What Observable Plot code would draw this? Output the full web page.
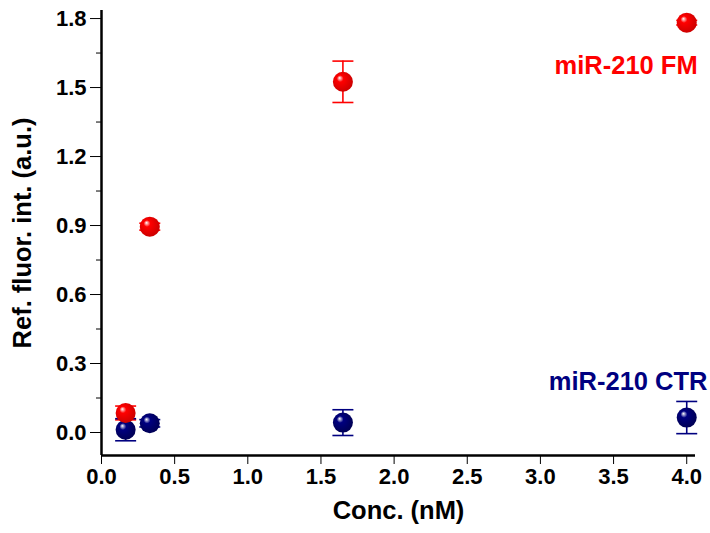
<!DOCTYPE html>
<html>
<head>
<meta charset="utf-8">
<script src="https://cdn.jsdelivr.net/npm/d3@7"></script>
<script src="https://cdn.jsdelivr.net/npm/@observablehq/plot@0.6"></script>
<style>
  body { margin: 0; background: #fff; }
  svg { font-family: "Liberation Sans", Arial, sans-serif; }
</style>
</head>
<body>
<div id="chart"></div>
<script>
const conc = [0.165, 0.33, 1.65, 4.0];
const fmValues = [0.085, 0.895, 1.525, 1.782];
const fmErrors = [0.03, 0.015, 0.09, 0.01];
const ctrValues = [0.012, 0.04, 0.043, 0.065];
const ctrErrors = [0.048, 0.016, 0.056, 0.07];
const yMajorTicks = [0, 0.3, 0.6, 0.9, 1.2, 1.5, 1.8];
const yMinorTicks = [0.15, 0.45, 0.75, 1.05, 1.35, 1.65];
const xTicks = [0, 0.5, 1, 1.5, 2, 2.5, 3, 3.5, 4];
const seriesLabels = [
  {name: "miR-210 FM", x: 4.075, y: 1.596, color: "#ff0000"},
  {name: "miR-210 CTR", x: 4.142, y: 0.222, color: "#000080"}
];

const rows = [];
conc.forEach((c, i) => {
  rows.push({series: "CTR", x: c, y: ctrValues[i], e: ctrErrors[i], color: "#000080", grad: "url(#gCTR)"});
  rows.push({series: "FM", x: c, y: fmValues[i], e: fmErrors[i], color: "#ff0000", grad: "url(#gFM)"});
});

const capSymbol = {draw(ctx, size) { ctx.moveTo(-10.5, 0); ctx.lineTo(10.5, 0); }};

const chart = Plot.plot({
  width: 710,
  height: 533,
  marginLeft: 101,
  marginRight: 15,
  marginTop: 10,
  marginBottom: 78,
  style: {fontFamily: "Liberation Sans, Arial, sans-serif", background: "white"},
  x: {domain: [0, 4.06]},
  y: {domain: [-0.1, 1.835]},
  marks: [
    Plot.axisY({ticks: yMajorTicks, tickFormat: d3.format(".1f"), tickSize: 11, tickPadding: 4, tickStrokeWidth: 2.2,
      fontSize: 22, fontWeight: "bold", label: null}),
    Plot.axisY({ticks: yMinorTicks, tickFormat: () => "", tickSize: 5, tickStrokeWidth: 2.2, label: null}),
    Plot.axisX({ticks: xTicks, tickFormat: d3.format(".1f"), tickSize: 9, tickPadding: 4, tickStrokeWidth: 2.2,
      fontSize: 22, fontWeight: "bold", label: null}),
    Plot.text(["Ref. fluor. int. (a.u.)"], {frameAnchor: "left", textAnchor: "middle", dx: -79, rotate: -90, fontSize: 25.5, fontWeight: "bold", fill: "black"}),
    Plot.text(["Conc. (nM)"], {frameAnchor: "bottom", dy: 63, fontSize: 25.5, fontWeight: "bold", fill: "black"}),
    Plot.ruleX([0], {stroke: "black", strokeWidth: 2.5}),
    Plot.ruleY([-0.1], {stroke: "black", strokeWidth: 2.5}),
    Plot.ruleX(rows, {x: "x", y1: d => d.y - d.e, y2: d => d.y + d.e, stroke: "color", strokeWidth: 1.6}),
    Plot.dot(rows, {x: "x", y: d => d.y - d.e, symbol: capSymbol, stroke: "color", strokeWidth: 1.6, r: 10}),
    Plot.dot(rows, {x: "x", y: d => d.y + d.e, symbol: capSymbol, stroke: "color", strokeWidth: 1.6, r: 10}),
    Plot.dot(rows, {x: "x", y: "y", r: 10, fill: "grad", stroke: "none"}),
    Plot.text(seriesLabels, {x: "x", y: "y", text: "name", fill: "color", textAnchor: "end", fontSize: 25.5, fontWeight: "bold"})
  ]
});

const svg = d3.select(chart);
const defs = svg.insert("defs", ":first-child");
[["gFM", "#ff0000", "#c80000"], ["gCTR", "#000080", "#000050"]].forEach(([id, c, dark]) => {
  const g = defs.append("radialGradient").attr("id", id).attr("cx", "0.45").attr("cy", "0.45").attr("r", "0.6").attr("fx", "0.33").attr("fy", "0.3");
  g.append("stop").attr("offset", "0").attr("stop-color", "#ffffff");
  g.append("stop").attr("offset", "0.28").attr("stop-color", c);
  g.append("stop").attr("offset", "1").attr("stop-color", dark);
});
document.getElementById("chart").appendChild(chart);
</script>
</body>
</html>
